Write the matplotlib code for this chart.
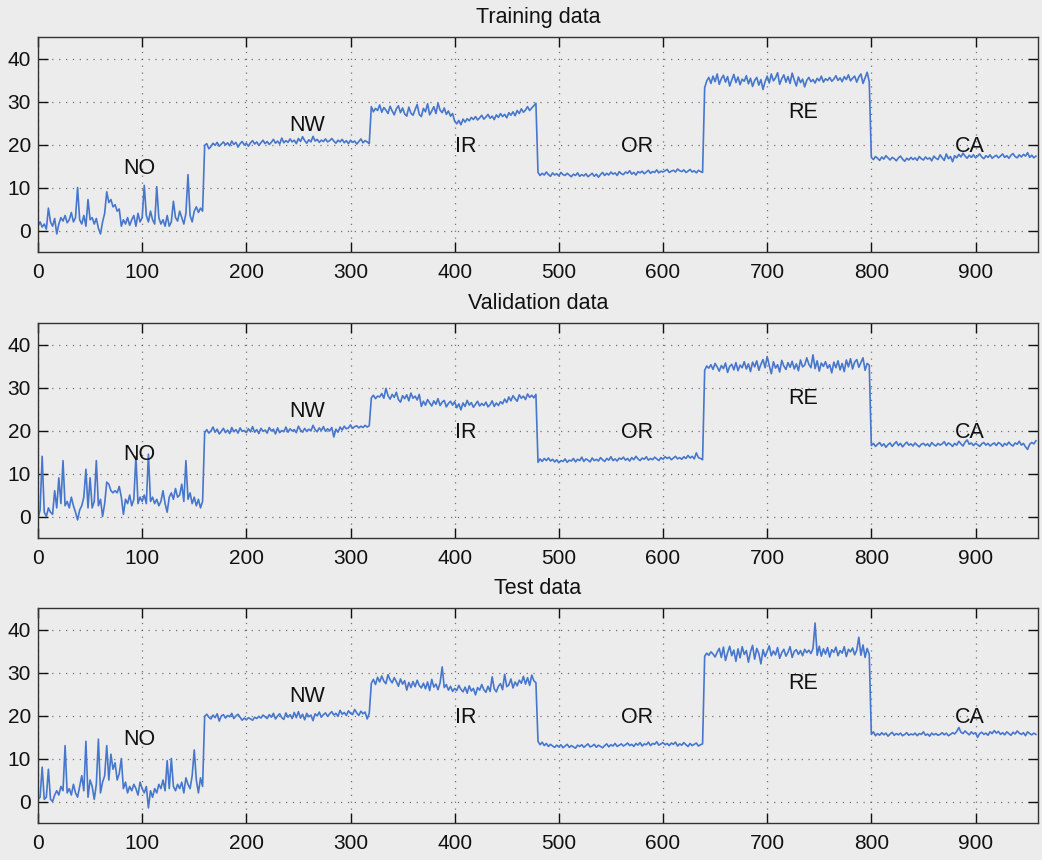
import numpy as np
import matplotlib
matplotlib.use("Agg")
import matplotlib.pyplot as plt

# ---------------- data (sample every 2nd index, 80 samples per condition) -------------
conditions = ["NO", "NW", "IR", "OR", "RE", "CA"]
titles = ["Training data", "Validation data", "Test data"]
sample_step = 2

train_NO = [1.0, 2.0, 0.8, 1.5, 0.3, 5.2, 2.0, 1.0, 2.8, -0.8, 1.5, 3.0, 2.2, 3.5, 1.8, 2.5, 4.2, 2.0, 3.0, 10.0,
            2.5, 1.5, 3.5, 1.0, 7.2, 2.5, 3.0, 1.5, 2.8, 0.5, -0.8, 2.0, 4.0, 9.0, 6.5, 7.2, 5.5, 6.0, 4.5, 5.0,
            1.0, 2.5, 1.5, 3.0, 1.2, 2.5, 3.5, 1.0, 4.0, 2.0, 3.0, 10.5, 3.5, 2.0, 4.5, 2.5, 1.5, 10.2, 3.0, 1.5,
            2.5, 1.0, 3.5, 1.0, 2.0, 6.8, 3.0, 2.2, 4.5, 3.0, 1.5, 4.0, 13.0, 3.5, 2.0, 4.5, 5.5, 4.2, 5.2, 4.5]
train_NW = [19.8, 20.2, 19.0, 19.5, 20.3, 19.8, 20.5, 19.6, 20.1, 20.6, 19.9, 20.4, 19.7, 20.8, 20.0, 20.5, 19.4, 20.2, 20.7, 19.9,
            20.3, 19.6, 20.4, 20.9, 20.1, 20.6, 19.8, 20.4, 21.0, 20.2, 20.7, 20.0, 20.5, 21.2, 20.3, 20.8, 20.1, 21.5, 20.4, 20.9,
            20.5, 21.3, 20.6, 21.0, 20.2, 21.4, 20.7, 21.8, 20.9, 20.3, 21.1, 20.6, 21.9, 20.8, 21.2, 20.5, 21.0, 20.7, 21.3, 20.6,
            20.9, 21.4, 20.8, 20.3, 21.0, 20.6, 21.2, 20.4, 20.9, 20.2, 21.0, 20.5, 20.8, 20.1, 20.7, 21.3, 20.4, 20.9, 20.6, 20.2]
train_IR = [28.8, 27.6, 28.4, 27.9, 29.2, 27.5, 28.6, 28.0, 27.2, 28.9, 27.8, 26.9, 28.3, 29.0, 27.4, 28.5, 27.1, 26.6, 28.7, 27.3,
            26.8, 28.1, 29.3, 27.0, 26.5, 28.4, 27.6, 29.5, 26.9, 27.8, 28.8, 27.2, 29.6, 28.0, 27.4, 28.5, 27.0, 27.8, 26.6, 27.2,
            25.4, 24.8, 25.6, 24.6, 25.9, 25.2, 26.0, 25.5, 26.3, 25.8, 26.5, 25.7, 26.2, 26.8, 25.9, 26.4, 27.0, 26.1, 26.6, 25.8,
            26.9, 26.3, 27.2, 26.5, 27.0, 26.2, 27.4, 26.8, 27.6, 26.7, 27.9, 27.2, 28.3, 27.5, 28.0, 28.8, 27.9, 28.5, 29.0, 29.6]
train_OR = [13.5, 12.8, 13.3, 12.9, 13.6, 13.0, 12.6, 13.4, 12.9, 13.2, 12.7, 13.5, 13.0, 12.8, 13.3, 12.9, 12.5, 13.1, 12.8, 13.4,
            12.6, 13.0, 12.7, 13.2, 12.5, 12.9, 13.3, 12.6, 13.1, 12.4, 13.0, 13.5, 12.8, 13.3, 12.9, 13.6, 13.1, 13.4, 12.8, 13.7,
            13.2, 13.0, 13.6, 13.3, 13.9, 13.1, 13.5, 12.9, 13.7, 13.4, 13.8, 13.2, 13.6, 14.0, 13.3, 13.7, 13.5, 14.1, 13.4, 13.8,
            13.6, 13.9, 14.2, 13.5, 13.8, 14.0, 13.6, 14.3, 13.9, 13.7, 14.1, 13.5, 13.8, 14.2, 13.6, 13.9, 13.4, 14.0, 13.7, 13.5]
train_RE = [33.2, 34.8, 35.6, 34.2, 35.9, 34.6, 36.4, 34.0, 35.3, 36.1, 34.5, 35.8, 33.6, 35.0, 36.3, 34.4, 35.7, 33.9, 35.2, 34.7,
            36.0, 34.1, 35.4, 33.5, 34.9, 35.6, 33.8, 35.1, 32.8, 34.6, 35.9, 34.3, 36.4, 34.8, 35.5, 36.7, 34.0, 35.3, 36.2, 34.5,
            35.8, 34.2, 36.6, 35.0, 33.6, 35.7, 34.4, 35.2, 33.4, 34.9, 35.6, 34.6, 35.1, 34.3, 35.4, 34.8, 35.9, 34.5, 35.3, 34.9,
            35.6, 34.7, 35.2, 36.0, 34.9, 35.5, 34.6, 35.8, 35.1, 36.2, 34.8, 35.4, 35.9, 34.5, 35.7, 36.4, 34.2, 35.5, 36.8, 34.6]
train_CA = [17.0, 16.5, 17.2, 16.8, 16.3, 17.1, 16.6, 17.4, 16.9, 16.4, 17.0, 16.7, 16.2, 16.9, 17.3, 16.6, 16.1, 16.8, 16.4, 17.0,
            16.5, 16.9, 16.3, 17.2, 16.7, 16.4, 17.1, 16.6, 16.9, 16.2, 17.3, 16.8, 16.5, 17.6, 16.9, 16.3, 17.8, 16.7, 17.2, 16.0,
            17.4, 16.9, 17.7, 17.1, 18.0, 17.3, 16.8, 17.5, 17.0, 17.6, 16.9, 17.3, 17.8, 17.1, 16.7, 17.4, 17.0, 17.6, 16.8, 17.2,
            17.5, 16.9, 17.3, 17.8, 17.0, 17.4, 16.8, 17.5, 17.9, 17.2, 16.9, 17.6, 17.1, 17.7, 17.3, 18.1, 17.0, 17.5, 16.9, 17.3]

valid_NO = [-0.5, 1.5, 14.0, 1.0, 0.0, 2.0, 1.0, 0.5, 6.0, 2.0, 9.0, 3.0, 13.0, 2.5, 3.5, 2.0, 4.5, 2.5, 1.0, -0.8,
            1.5, 2.5, 4.5, 11.0, 2.0, 9.0, 2.0, 3.5, 13.0, 2.5, 4.0, 0.0, 3.0, 8.0, 7.5, 6.0, 5.5, 6.0, 5.5, 7.0,
            4.5, 0.5, 4.0, 3.0, 5.0, 2.5, 4.0, 14.0, 3.0, 4.5, 3.5, 5.0, 3.0, 14.5, 3.5, 4.5, 3.0, 4.0, 2.5, 3.5,
            6.0, 3.0, 1.0, 4.5, 5.5, 4.0, 6.5, 4.5, 5.0, 7.5, 3.5, 13.0, 4.0, 5.5, 3.0, 4.5, 2.5, 4.0, 2.0, 3.5]
valid_NW = [19.5, 20.2, 19.4, 19.9, 20.8, 19.6, 20.3, 19.2, 19.8, 20.5, 19.5, 20.1, 19.3, 20.7, 19.7, 20.2, 19.4, 20.6, 19.8, 20.0,
            19.5, 20.4, 19.7, 20.9, 19.6, 20.2, 19.3, 20.5, 19.8, 20.1, 19.4, 20.7, 19.9, 20.3, 19.2, 20.6, 19.5, 20.0, 19.7, 20.8,
            19.6, 20.4, 19.9, 20.2, 19.5, 21.0, 20.1, 19.6, 20.5, 19.8, 20.3, 19.9, 21.2, 20.2, 19.7, 20.6, 20.0, 20.9, 19.8, 20.4,
            19.9, 20.7, 18.5, 20.3, 19.6, 20.8, 20.1, 21.0, 20.4, 20.6, 21.3, 20.5, 20.9, 21.1, 20.6, 21.0, 20.7, 21.2, 20.8, 21.1]
valid_IR = [27.6, 28.2, 27.4, 28.0, 27.8, 28.6, 27.5, 29.8, 28.1, 27.3, 28.4, 27.7, 28.9, 27.2, 26.6, 28.1, 27.4, 28.3, 26.9, 28.7,
            27.5, 28.0, 27.1, 28.4, 25.6, 26.8, 25.9, 27.2, 26.4, 25.7, 26.9, 26.1, 27.4, 25.8, 26.6, 27.0, 25.5, 26.3, 26.8, 25.9,
            26.7, 25.3, 26.2, 24.8, 26.4, 25.6, 27.0, 25.9, 26.5, 25.4, 26.1, 26.8, 25.7, 26.3, 25.8, 26.6, 25.5, 26.0, 26.9, 25.6,
            26.4, 25.8, 26.7, 26.2, 27.3, 26.5, 27.8, 26.9, 28.1, 27.4, 26.8, 28.3, 27.5, 28.0, 27.2, 28.5, 27.7, 28.2, 27.6, 28.4]
valid_OR = [12.6, 13.4, 12.8, 13.5, 13.0, 13.6, 12.9, 13.3, 12.7, 13.2, 12.5, 13.0, 12.8, 13.4, 12.6, 13.1, 12.9, 13.5, 12.7, 13.3,
            13.0, 13.8, 12.8, 13.4, 13.1, 12.7, 13.6, 13.0, 13.3, 12.9, 13.7, 13.2, 12.8, 13.5, 13.1, 13.9, 13.0, 13.4, 12.9, 13.6,
            13.3, 13.8, 13.1, 13.5, 12.9, 13.7, 13.2, 14.0, 13.4, 13.0, 13.6, 13.3, 13.9, 13.1, 13.5, 13.2, 13.8, 13.4, 13.0, 13.7,
            13.3, 13.9, 13.5, 13.8, 13.2, 13.6, 14.0, 13.4, 13.7, 13.3, 13.9, 13.5, 14.2, 13.6, 14.0, 13.4, 14.8, 13.7, 13.5, 13.2]
valid_RE = [34.0, 35.0, 34.5, 35.3, 34.2, 35.6, 34.8, 33.8, 35.1, 34.4, 35.7, 33.5, 34.9, 35.4, 34.1, 35.8, 33.9, 35.2, 34.6, 36.0,
            34.3, 35.5, 33.7, 35.9, 34.8, 36.2, 34.0, 35.4, 36.5, 34.6, 37.2, 35.1, 33.2, 36.0, 34.5, 35.3, 33.6, 36.3, 35.0, 34.2,
            35.8, 34.7, 36.1, 34.3, 35.5, 33.9, 36.4, 34.8, 35.2, 36.9, 35.4, 34.6, 37.6, 34.4, 36.2, 33.8, 35.7, 34.9, 36.0, 34.5,
            35.3, 33.4, 35.9, 34.6, 36.2, 34.1, 35.6, 33.7, 36.4, 34.8, 36.7, 34.3, 35.9, 36.5, 34.7, 35.8, 36.9, 34.0, 35.6, 35.2]
valid_CA = [16.5, 17.0, 16.3, 16.8, 17.2, 16.4, 16.9, 16.1, 16.7, 17.1, 16.3, 16.9, 17.4, 16.5, 17.0, 16.2, 16.8, 17.3, 16.6, 16.9,
            16.4, 17.1, 16.6, 16.2, 16.8, 17.0, 16.5, 16.9, 16.3, 17.2, 16.7, 16.4, 17.0, 16.6, 16.9, 17.4, 16.5, 17.1, 16.8, 16.3,
            17.0, 16.6, 17.5, 16.9, 16.4, 17.3, 17.8, 16.8, 17.1, 16.5, 17.0, 16.7, 16.3, 16.9, 17.2, 16.6, 17.0, 16.4, 16.8, 17.1,
            16.5, 17.2, 16.9, 16.3, 17.0, 16.6, 17.3, 16.7, 16.4, 17.1, 16.8, 17.5, 16.6, 17.0, 16.2, 15.6, 16.8, 17.2, 16.9, 17.6]

test_NO = [0.5, 1.0, 8.0, 0.5, 1.0, 7.5, 0.5, 0.0, 1.5, 2.5, 1.5, 3.5, 2.5, 13.0, 2.0, 3.0, 1.5, 4.0, 2.0, 1.0,
           3.5, 6.0, 2.5, 14.0, 1.0, 5.0, 3.5, 0.5, 4.0, 14.5, 2.0, 4.5, 6.0, 13.0, 5.0, 11.0, 7.5, 9.0, 5.0, 6.5,
           10.0, 3.0, 4.5, 2.0, 3.5, 2.5, 4.0, 3.0, 1.5, 4.5, 3.0, 2.0, 3.5, -1.5, 2.5, 1.0, 3.0, 2.0, 4.0, 3.0,
           5.0, 2.5, 9.5, 3.0, 10.0, 3.5, 2.5, 4.0, 3.0, 4.5, 2.0, 5.5, 4.0, 3.0, 6.0, 12.0, 5.0, 2.0, 5.5, 3.5]
test_NW = [19.8, 20.3, 19.6, 19.2, 20.1, 19.5, 20.4, 18.7, 19.9, 20.2, 19.4, 20.0, 19.7, 20.5, 19.3, 19.9, 20.3, 19.6, 18.9, 19.4,
           19.0, 19.5, 19.2, 18.9, 19.6, 19.3, 19.8, 19.4, 20.1, 19.7, 19.3, 20.2, 19.6, 20.5, 19.2, 19.9, 20.4, 19.5, 19.1, 20.6,
           19.6, 20.2, 19.3, 20.7, 19.5, 20.9, 19.4, 20.3, 19.0, 20.5, 19.7, 20.1, 18.8, 20.4, 19.9, 20.8, 19.6, 20.2, 20.6, 19.8,
           20.4, 20.9, 20.1, 20.5, 19.8, 21.2, 20.3, 20.7, 20.0, 21.1, 20.5, 20.2, 21.4, 20.6, 20.0, 21.0, 20.4, 20.8, 19.2, 20.5]
test_IR = [27.5, 28.4, 27.2, 28.9, 27.8, 29.2, 28.0, 27.4, 29.5, 28.3, 27.6, 28.8, 27.9, 26.8, 28.5, 27.3, 28.1, 25.9, 27.7, 26.5,
           27.9, 26.7, 28.2, 27.0, 26.4, 27.5, 26.2, 27.8, 25.8, 28.4, 26.6, 27.3, 26.0, 27.6, 31.3, 26.5, 27.2, 25.9, 26.8, 25.6,
           26.3, 25.8, 27.0, 26.1, 25.5, 26.6, 25.2, 26.9, 25.7, 26.3, 24.8, 26.5, 25.9, 27.2, 26.0, 25.4, 26.8, 25.6, 29.0, 26.2,
           25.5, 26.8, 27.4, 26.0, 29.6, 26.7, 27.1, 28.5, 26.4, 27.8, 26.9, 28.2, 27.5, 29.1, 27.3, 28.8, 27.0, 29.4, 28.1, 27.6]
test_OR = [14.0, 13.2, 13.8, 13.0, 13.5, 12.8, 13.3, 12.9, 12.6, 13.1, 12.7, 13.2, 12.5, 12.9, 13.3, 12.6, 13.0, 12.7, 12.4, 13.1,
           12.8, 13.2, 12.6, 13.0, 13.4, 12.7, 12.9, 13.3, 12.6, 13.1, 12.8, 12.5, 13.0, 13.4, 12.7, 13.2, 12.9, 13.5, 12.8, 13.1,
           13.4, 12.9, 13.2, 13.6, 13.0, 13.3, 12.8, 13.5, 13.1, 13.7, 12.9, 13.4, 13.2, 13.8, 13.0, 13.5, 13.3, 13.9, 13.1, 13.4,
           13.7, 13.2, 13.5, 13.0, 13.6, 13.3, 13.8, 12.9, 13.4, 13.1, 13.7, 13.2, 12.8, 13.5, 13.0, 13.3, 13.6, 12.9, 13.2, 13.4]
test_RE = [33.8, 34.5, 34.0, 34.8, 34.3, 33.6, 34.7, 35.6, 33.5, 35.9, 32.8, 34.6, 36.1, 33.9, 35.2, 32.6, 35.5, 33.4, 36.0, 34.2,
           35.1, 32.4, 34.8, 36.3, 33.1, 35.6, 34.4, 32.0, 35.3, 33.7, 34.9, 36.2, 33.9, 35.0, 34.1, 35.8, 33.3, 34.6, 35.4, 33.8,
           34.7, 36.0, 33.5, 34.9, 35.3, 34.2, 35.1, 33.9, 35.4, 34.6, 35.2, 34.4, 35.6, 41.5, 34.0, 36.1, 33.8, 35.5, 34.3, 35.8,
           33.6, 35.3, 34.7, 35.9, 33.9, 35.1, 34.5, 36.0, 33.7, 35.4, 34.8, 35.7, 34.1, 35.2, 38.2, 34.0, 36.4, 33.5, 35.6, 34.2]
test_CA = [15.6, 16.2, 15.3, 15.8, 15.4, 16.0, 15.5, 15.9, 15.2, 15.7, 16.1, 15.4, 15.8, 15.5, 15.9, 15.3, 15.6, 16.0, 15.4, 15.7,
           15.5, 15.9, 15.3, 15.8, 15.6, 16.2, 15.4, 15.7, 15.2, 15.9, 15.5, 15.8, 15.4, 15.6, 16.0, 15.5, 15.9, 15.3, 15.6, 16.0,
           15.7, 16.3, 17.2, 16.1, 15.8, 16.4, 15.9, 15.5, 16.2, 15.7, 16.0, 14.9, 15.8, 16.1, 15.6, 15.9, 15.4, 16.2, 15.8, 16.5,
           15.9, 16.3, 15.6, 16.0, 15.5, 16.2, 15.8, 15.4, 16.1, 15.7, 16.4, 15.9, 15.6, 16.0, 15.3, 16.2, 15.8, 15.5, 15.9, 15.6]

datasets = [
    [train_NO, train_NW, train_IR, train_OR, train_RE, train_CA],
    [valid_NO, valid_NW, valid_IR, valid_OR, valid_RE, valid_CA],
    [test_NO, test_NW, test_IR, test_OR, test_RE, test_CA],
]

xticks = [0, 100, 200, 300, 400, 500, 600, 700, 800, 900]
yticks = [0, 10, 20, 30, 40]

# ---------------- layout / style -------------------------------------------------------
label_pos = {"NO": (97, 14.5), "NW": (258, 24.5), "IR": (411, 19.5),
             "OR": (575, 19.5), "RE": (735, 27.5), "CA": (895, 19.5)}

W, H = 1042, 860
bg = "#ececec"
line_col = "#4677cc"
plt.rcParams["font.family"] = ["Liberation Sans", "DejaVu Sans"]

fig = plt.figure(figsize=(W / 100, H / 100), dpi=100, facecolor=bg)
axes_px = [(37, 252), (323, 538), (608, 823)]  # top, bottom in px
left_px, right_px = 38, 1038

for (top, bot), title, segs in zip(axes_px, titles, datasets):
    ax = fig.add_axes([left_px / W, 1 - bot / H, (right_px - left_px) / W, (bot - top) / H])
    ax.set_facecolor(bg)
    y = np.concatenate([np.asarray(s, dtype=float) for s in segs])
    x = np.arange(len(y)) * sample_step
    ax.plot(x, y, color=line_col, lw=1.2)
    ax.set_xlim(0, 960)
    ax.set_ylim(-5, 45)
    ax.set_xticks(xticks)
    ax.set_yticks(yticks)
    ax.grid(True, color="#555555", lw=0.9, linestyle=(0, (1, 4.5)), alpha=0.8)
    ax.tick_params(direction="in", length=7, width=1.0, top=True, right=True,
                   labelsize=15, colors="#111111", pad=5)
    ax.tick_params(axis="x", pad=8)
    for sp in ax.spines.values():
        sp.set_color("#333333")
        sp.set_linewidth(1.0)
    ax.set_title(title, fontsize=15.5, pad=10, color="#111111")
    for name in conditions:
        lx, ly = label_pos[name]
        ax.text(lx, ly, name, ha="center", va="center", fontsize=15.5, color="#111111")

fig.savefig("out.png", dpi=100, facecolor=bg)
